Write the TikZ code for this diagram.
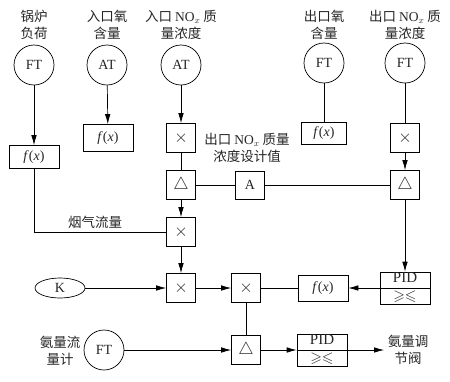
\documentclass[tikz,border=0pt]{standalone}
\usepackage{amssymb}
\usepackage{fontspec}
\setmainfont{Liberation Serif}
\newfontfamily\cjk{Noto Sans CJK SC}
\usetikzlibrary{positioning,arrows.meta,shapes.geometric}

\begin{document}
\begin{tikzpicture}[
    x=1pt, y=-1pt,
    every node/.style={font=\fontsize{14}{17}\selectfont, text=black!85},
    meas/.style={circle, draw, minimum size=40pt, inner sep=0pt},
    opbox/.style={draw, minimum width=29pt, minimum height=29pt, inner sep=0pt, font=\fontsize{19}{20}\selectfont},
    fxbox/.style={draw, minimum width=50pt, minimum height=26pt, inner sep=0pt},
    pidbox/.style={draw, minimum width=50pt, minimum height=32pt, inner sep=0pt, align=center, font=\fontsize{15}{17}\selectfont},
    lbl/.style={align=center, font=\cjk\fontsize{13.5}{17}\selectfont},
    arr/.style={-{Latex[length=10pt,width=5.5pt]}},
    line width=0.7pt
  ]
    \useasboundingbox (0,0) rectangle (450,381);

    % top measurements
    \node[lbl] (lload) at (34,25) {锅炉\\负荷};
    \node[lbl] (lino) at (107,25) {入口氧\\含量};
    \node[lbl] (linn) at (181,25) {入口 {\rmfamily NO$_x$} 质\\量浓度};
    \node[lbl] (louto) at (324,25) {出口氧\\含量};
    \node[lbl] (loutn) at (405,25) {出口 {\rmfamily NO$_x$} 质\\量浓度};

    \node[meas] (ft1) at (34,65) {FT};
    \node[meas] (at1) at (107,65) {AT};
    \node[meas] (at2) at (181,65) {AT};
    \node[meas] (ft2) at (324,63) {FT};
    \node[meas] (ft3) at (405,63) {FT};

    % function and operation blocks
    \node[fxbox, minimum height=23pt] (fx1) at (34,157) {\textit{f}(\textit{x})};
    \node[fxbox, minimum height=27pt] (fx2) at (108,138) {\textit{f}(\textit{x})};
    \node[fxbox, minimum width=45pt, minimum height=22pt] (fx4) at (324,133) {\textit{f}(\textit{x})};
    \node[opbox] (mul1) at (181,138) {$\times$};
    \node[opbox] (mul5) at (405,138) {$\times$};
    \node[opbox] (sub1) at (181,185) {$\triangle$};
    \node[opbox, minimum height=28pt, font=\fontsize{14}{17}\selectfont] (aset) at (250,185) {A};
    \node[opbox] (sub2) at (405,185) {$\triangle$};
    \node[lbl] (lset) at (247,148) {出口 {\rmfamily NO$_x$} 质量\\浓度设计值};
    \node[opbox] (mul2) at (181,232) {$\times$};
    \node[lbl] (lflue) at (95,222) {烟气流量};

    \node[ellipse, draw, minimum width=50pt, minimum height=20pt, inner sep=0pt] (kconst) at (60,288) {K};
    \node[opbox] (mul3) at (181,288) {$\times$};
    \node[opbox] (mul4) at (246,288) {$\times$};
    \node[fxbox] (fx3) at (323,288) {\textit{f}(\textit{x})};
    \node[pidbox] (pid1) at (405,288) {PID\\[1pt]$\geqslant\leqslant$};
    \draw (pid1.west) -- (pid1.east);

    % ammonia loop
    \node[lbl] (lnh3) at (60,351) {氨量流\\量计};
    \node[meas] (ft4) at (104,350) {FT};
    \node[opbox] (sub3) at (246,350) {$\triangle$};
    \node[pidbox] (pid2) at (322,350) {PID\\[1pt]$\geqslant\leqslant$};
    \draw (pid2.west) -- (pid2.east);
    \node[lbl] (lvalve) at (408,350) {氨量调\\节阀};

    % connections
    \draw[arr] (ft1) -- (fx1);
    \draw[arr] (at1) -- (fx2);
    \draw[arr] (at2) -- (mul1);
    \draw (mul1) -- (sub1);
    \draw[arr] (sub1) -- (mul2);
    \draw (fx1) |- (mul2);
    \draw[arr] (mul2) -- (mul3);
    \draw[arr] (kconst) -- (mul3);
    \draw[arr] (mul3) -- (mul4);
    \draw (fx3) -- (mul4);
    \draw[arr] (pid1) -- (fx3);
    \draw (sub1) -- (aset) -- (sub2);
    \draw (ft2) -- (fx4);
    \draw (ft3) -- (mul5);
    \draw[arr] (mul5) -- (sub2);
    \draw[arr] (sub2) -- (pid1);
    \draw (mul4) -- (sub3);
    \draw[arr] (ft4) -- (sub3);
    \draw[arr] (sub3) -- (pid2);
    \draw[arr] (pid2) -- (lvalve);
\end{tikzpicture}
\end{document}
